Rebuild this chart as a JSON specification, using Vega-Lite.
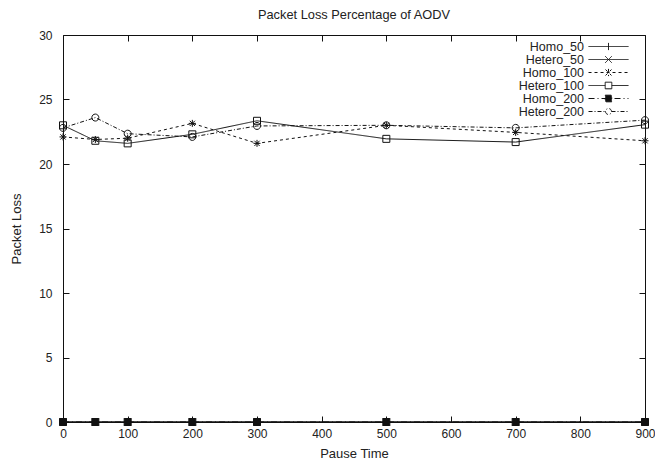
{
  "$schema": "https://vega.github.io/schema/vega-lite/v6.json",
  "width": 582,
  "height": 387,
  "autosize": {"type": "none"},
  "padding": {"left": 63, "top": 35, "right": 10, "bottom": 39},
  "background": "white",
  "title": {"text": "Packet Loss Percentage of AODV", "fontSize": 12.8, "fontWeight": "normal", "font": "Liberation Sans", "color": "#222", "offset": 7, "anchor": "middle"},
  "config": {
    "view": {"stroke": "#111", "strokeWidth": 1},
    "axis": {"labelFont": "Liberation Sans", "titleFont": "Liberation Sans", "labelFontSize": 12, "titleFontSize": 13, "titleFontWeight": "normal", "labelColor": "#222", "titleColor": "#222", "grid": false, "domain": false, "tickColor": "#111", "tickSize": -6, "labelFlush": false},
    "legend": {"labelFont": "Liberation Sans", "labelFontSize": 12.5, "labelColor": "#222"}
  },
  "data": {"values": [
    {"t": 0, "series": "Homo_50", "loss": 0}, {"t": 50, "series": "Homo_50", "loss": 0}, {"t": 100, "series": "Homo_50", "loss": 0}, {"t": 200, "series": "Homo_50", "loss": 0}, {"t": 300, "series": "Homo_50", "loss": 0}, {"t": 500, "series": "Homo_50", "loss": 0}, {"t": 700, "series": "Homo_50", "loss": 0}, {"t": 900, "series": "Homo_50", "loss": 0},
    {"t": 0, "series": "Hetero_50", "loss": 0}, {"t": 50, "series": "Hetero_50", "loss": 0}, {"t": 100, "series": "Hetero_50", "loss": 0}, {"t": 200, "series": "Hetero_50", "loss": 0}, {"t": 300, "series": "Hetero_50", "loss": 0}, {"t": 500, "series": "Hetero_50", "loss": 0}, {"t": 700, "series": "Hetero_50", "loss": 0}, {"t": 900, "series": "Hetero_50", "loss": 0},
    {"t": 0, "series": "Homo_100", "loss": 22.1}, {"t": 50, "series": "Homo_100", "loss": 21.9}, {"t": 100, "series": "Homo_100", "loss": 22.0}, {"t": 200, "series": "Homo_100", "loss": 23.15}, {"t": 300, "series": "Homo_100", "loss": 21.6}, {"t": 500, "series": "Homo_100", "loss": 23.0}, {"t": 700, "series": "Homo_100", "loss": 22.45}, {"t": 900, "series": "Homo_100", "loss": 21.8},
    {"t": 0, "series": "Hetero_100", "loss": 23.0}, {"t": 50, "series": "Hetero_100", "loss": 21.8}, {"t": 100, "series": "Hetero_100", "loss": 21.6}, {"t": 200, "series": "Hetero_100", "loss": 22.3}, {"t": 300, "series": "Hetero_100", "loss": 23.35}, {"t": 500, "series": "Hetero_100", "loss": 21.95}, {"t": 700, "series": "Hetero_100", "loss": 21.7}, {"t": 900, "series": "Hetero_100", "loss": 23.05},
    {"t": 0, "series": "Homo_200", "loss": 0}, {"t": 50, "series": "Homo_200", "loss": 0}, {"t": 100, "series": "Homo_200", "loss": 0}, {"t": 200, "series": "Homo_200", "loss": 0}, {"t": 300, "series": "Homo_200", "loss": 0}, {"t": 500, "series": "Homo_200", "loss": 0}, {"t": 700, "series": "Homo_200", "loss": 0}, {"t": 900, "series": "Homo_200", "loss": 0},
    {"t": 0, "series": "Hetero_200", "loss": 22.8}, {"t": 50, "series": "Hetero_200", "loss": 23.6}, {"t": 100, "series": "Hetero_200", "loss": 22.35}, {"t": 200, "series": "Hetero_200", "loss": 22.1}, {"t": 300, "series": "Hetero_200", "loss": 22.95}, {"t": 500, "series": "Hetero_200", "loss": 23.0}, {"t": 700, "series": "Hetero_200", "loss": 22.8}, {"t": 900, "series": "Hetero_200", "loss": 23.4}
  ]},
  "layer": [
    {
      "mark": {"type": "line", "color": "#111", "strokeWidth": 1},
      "encoding": {
        "x": {"field": "t", "type": "quantitative", "scale": {"domain": [0, 900], "nice": false}, "axis": {"values": [0, 100, 200, 300, 400, 500, 600, 700, 800, 900], "title": "Pause Time", "labelPadding": 12, "titlePadding": 8}},
        "y": {"field": "loss", "type": "quantitative", "scale": {"domain": [0, 30], "nice": false}, "axis": {"values": [0, 5, 10, 15, 20, 25, 30], "title": "Packet Loss", "labelPadding": 17, "titlePadding": 15}},
        "strokeDash": {
          "field": "series", "type": "nominal",
          "scale": {"domain": ["Homo_50", "Hetero_50", "Homo_100", "Hetero_100", "Homo_200", "Hetero_200"], "range": [[1, 0], [1, 0], [3, 3], [1, 0], [6, 3, 1, 3], [4, 2, 1, 2]]},
          "legend": {
            "title": null, "orient": "none", "legendX": 539, "legendY": 5, "padding": 0,
            "symbolSize": 144, "symbolStrokeColor": "#111", "symbolStrokeWidth": 1,
            "labelAlign": "right", "labelOffset": -31, "rowPadding": 0,
            "encode": {"symbols": {"update": {
              "shape": {"signal": "datum.value === 'Homo_50' ? 'M-3.33,0H3.33M0,-0.6V0.6' : datum.value === 'Hetero_50' ? 'M-3.33,0H3.33M-0.55,-0.55L0.55,0.55M-0.55,0.55L0.55,-0.55' : datum.value === 'Homo_100' ? 'M-3.33,0H3.33M0,-0.6V0.6M-0.5,-0.5L0.5,0.5M-0.5,0.5L0.5,-0.5' : datum.value === 'Hetero_100' ? 'M-3.33,0H-0.55M0.55,0H3.33M-0.55,-0.55H0.55V0.55H-0.55Z' : datum.value === 'Homo_200' ? 'M-3.33,0H3.33M-0.55,-0.55H0.55V0.55H-0.55Z' : 'M-3.33,0H-0.5M0.5,0H3.33M-0.5,0A0.5,0.5 0 1,0 0.5,0A0.5,0.5 0 1,0 -0.5,0'"},
              "fill": {"signal": "datum.value === 'Homo_200' ? '#111' : 'transparent'"},
              "stroke": {"value": "#111"},
              "strokeWidth": {"value": 1},
              "opacity": {"value": 1}
            }}}
          }
        }
      }
    },
    {
      "transform": [{"filter": "datum.series === 'Homo_50'"}],
      "mark": {"type": "point", "shape": "M-1,0H1M0,-1V1", "stroke": "#111", "strokeWidth": 1, "size": 49, "opacity": 1, "fill": "transparent"},
      "encoding": {
        "x": {"field": "t", "type": "quantitative", "axis": {"orient": "top", "values": [0, 100, 200, 300, 400, 500, 600, 700, 800, 900], "labels": false, "title": null}},
        "y": {"field": "loss", "type": "quantitative", "axis": {"orient": "right", "values": [0, 5, 10, 15, 20, 25, 30], "labels": false, "title": null}}
      }
    },
    {
      "transform": [{"filter": "datum.series === 'Hetero_50'"}],
      "mark": {"type": "point", "shape": "M-1,-1L1,1M-1,1L1,-1", "stroke": "#111", "strokeWidth": 1, "size": 49, "opacity": 1, "fill": "transparent"},
      "encoding": {
        "x": {"field": "t", "type": "quantitative", "axis": null},
        "y": {"field": "loss", "type": "quantitative", "axis": null}
      }
    },
    {
      "transform": [{"filter": "datum.series === 'Homo_100'"}],
      "mark": {"type": "point", "shape": "M-1,0H1M0,-1V1M-0.75,-0.75L0.75,0.75M-0.75,0.75L0.75,-0.75", "stroke": "#111", "strokeWidth": 1, "size": 49, "opacity": 1, "fill": "transparent"},
      "encoding": {
        "x": {"field": "t", "type": "quantitative", "axis": null},
        "y": {"field": "loss", "type": "quantitative", "axis": null}
      }
    },
    {
      "transform": [{"filter": "datum.series === 'Hetero_100'"}],
      "mark": {"type": "point", "shape": "M-1,-1H1V1H-1Z", "stroke": "#111", "strokeWidth": 1, "size": 49, "opacity": 1, "fill": "transparent"},
      "encoding": {
        "x": {"field": "t", "type": "quantitative", "axis": null},
        "y": {"field": "loss", "type": "quantitative", "axis": null}
      }
    },
    {
      "transform": [{"filter": "datum.series === 'Homo_200'"}],
      "mark": {"type": "point", "shape": "M-1,-1H1V1H-1Z", "stroke": "#111", "strokeWidth": 1, "size": 49, "opacity": 1, "fill": "#111"},
      "encoding": {
        "x": {"field": "t", "type": "quantitative", "axis": null},
        "y": {"field": "loss", "type": "quantitative", "axis": null}
      }
    },
    {
      "transform": [{"filter": "datum.series === 'Hetero_200'"}],
      "mark": {"type": "point", "shape": "M-1,0A1,1 0 1,0 1,0A1,1 0 1,0 -1,0", "stroke": "#111", "strokeWidth": 1, "size": 49, "opacity": 1, "fill": "transparent"},
      "encoding": {
        "x": {"field": "t", "type": "quantitative", "axis": null},
        "y": {"field": "loss", "type": "quantitative", "axis": null}
      }
    }
  ],
  "resolve": {"axis": {"x": "independent", "y": "independent"}}
}
